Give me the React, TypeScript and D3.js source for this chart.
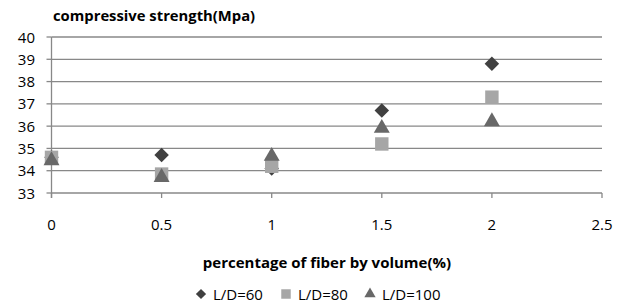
import React from 'react';
import * as d3 from 'd3';

const xValues = [0, 0.5, 1, 1.5, 2];
const ld60 = [34.6, 34.7, 34.1, 36.7, 38.8];
const ld80 = [34.6, 33.85, 34.2, 35.2, 37.3];
const ld100 = [34.5, 33.75, 34.7, 35.95, 36.25];
const xTicks = [0, 0.5, 1, 1.5, 2, 2.5];
const yTicks = [33, 34, 35, 36, 37, 38, 39, 40];

const W = 629;
const H = 307;
const font = '"Open Sans", sans-serif';

const series = [
  { name: 'L/D=60', values: ld60, color: '#404040', shape: d3.symbolSquare, size: 105, rot: 45 },
  { name: 'L/D=80', values: ld80, color: '#a6a6a6', shape: d3.symbolSquare, size: 180, rot: 0 },
  { name: 'L/D=100', values: ld100, color: '#686868', shape: d3.symbolTriangle, size: 110, rot: 0 },
];

const App: React.FC = () => {
  const x = d3.scaleLinear().domain([0, 2.5]).range([51.5, 602]);
  const y = d3.scaleLinear().domain([33, 40]).range([193, 37]);
  const sym = (shape: any, size: number) => d3.symbol().type(shape).size(size)() as string;

  return (
    <svg width={W} height={H} style={{ position: 'absolute', left: 0, top: 0 }}>
      <rect width={W} height={H} fill="#fff" />
      <text x={53} y={21} fontFamily={font} fontWeight="bold" fontSize={14.8} fill="#000">
        compressive strength(Mpa)
      </text>
      {yTicks.map((t) => (
        <g key={t}>
          <line x1={x(0)} x2={x(2.5)} y1={y(t)} y2={y(t)} stroke="#888" strokeWidth={1.3} />
          <line x1={x(0) - 5} x2={x(0)} y1={y(t)} y2={y(t)} stroke="#888" strokeWidth={1.3} />
          <text x={35} y={y(t) + 5.5} textAnchor="end" fontFamily={font} fontSize={15} fill="#000">
            {t}
          </text>
        </g>
      ))}
      <line x1={x(0)} x2={x(0)} y1={y(40)} y2={y(33) + 5} stroke="#888" strokeWidth={1.3} />
      {xTicks.map((t) => (
        <g key={t}>
          <line x1={x(t)} x2={x(t)} y1={y(33)} y2={y(33) + 5} stroke="#888" strokeWidth={1.3} />
          <text x={x(t)} y={230} textAnchor="middle" fontFamily={font} fontSize={15} fill="#000">
            {t}
          </text>
        </g>
      ))}
      <text x={327} y={268} textAnchor="middle" fontFamily={font} fontWeight="bold" fontSize={15} fill="#000">
        percentage of fiber by volume(%)
      </text>
      {series.map((s) => (
        <g key={s.name}>
          {s.values.map((v, i) => (
            <path
              key={i}
              d={sym(s.shape, s.size)}
              transform={`translate(${x(xValues[i])},${y(v) + (s.shape === d3.symbolTriangle ? 1 : 0)}) rotate(${s.rot})`}
              fill={s.color}
            />
          ))}
        </g>
      ))}
      {series.map((s, i) => {
        const lx = [201, 286, 370][i];
        return (
          <g key={s.name} transform={`translate(${lx},294)`}>
            <path d={sym(s.shape, s.size * 0.5)} transform={`rotate(${s.rot})`} fill={s.color} />
            <text x={12} y={5.5} fontFamily={font} fontSize={15} fill="#000">
              {s.name}
            </text>
          </g>
        );
      })}
    </svg>
  );
};

export default App;
